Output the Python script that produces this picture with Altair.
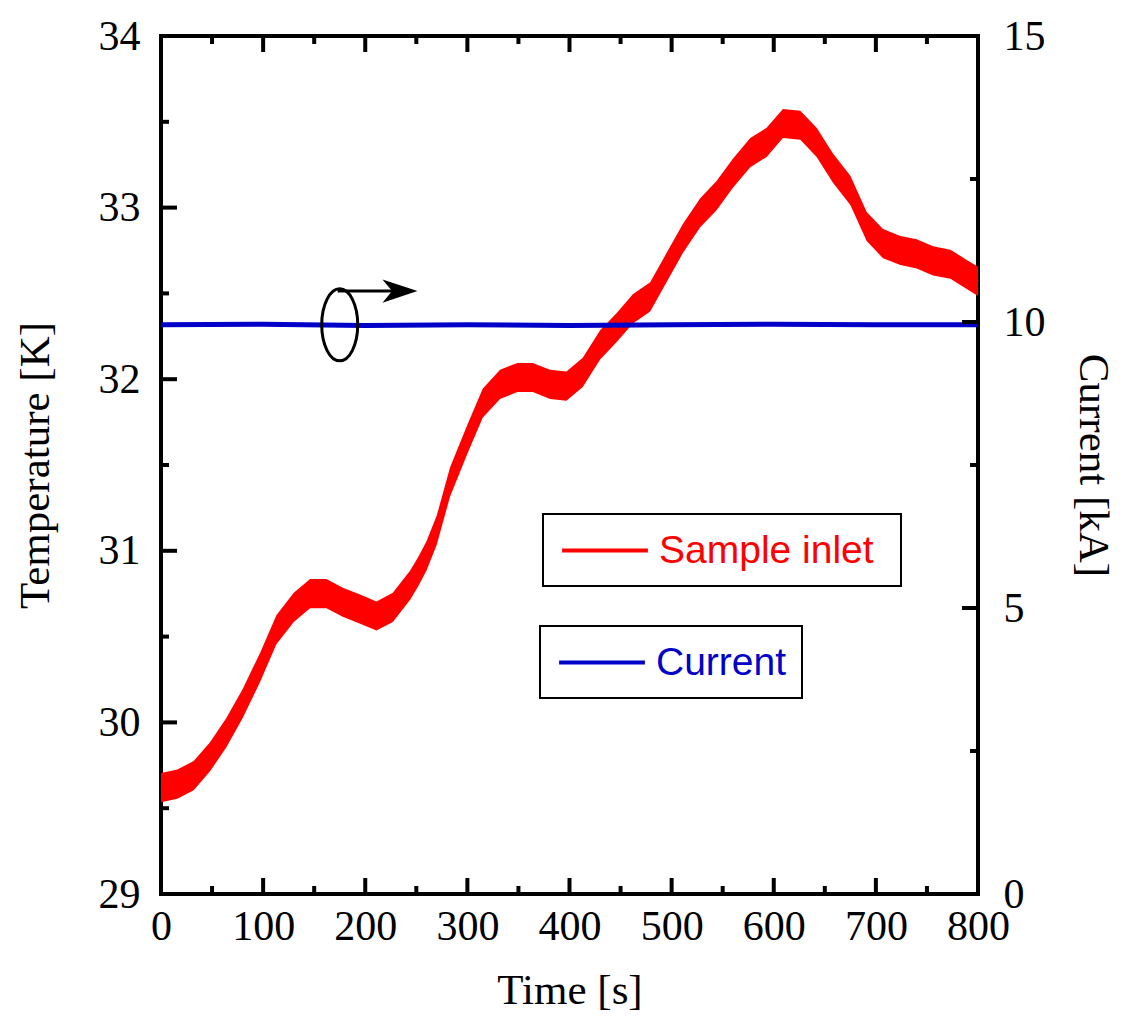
import altair as alt
import pandas as pd

# ---- data ----
time_s = [0, 16, 32, 48, 64, 80, 97, 113, 130, 146, 162, 178, 195, 211, 227, 244,
          252, 260, 270, 283, 300, 315, 332, 349, 364, 381, 397, 413, 430, 446, 462,
          479, 495, 511, 528, 544, 560, 577, 593, 609, 626, 642, 658, 675, 691, 707,
          724, 740, 756, 773, 789, 800]
temp_K = [29.62, 29.64, 29.69, 29.80, 29.94, 30.11, 30.32, 30.54, 30.67, 30.75, 30.75,
          30.70, 30.66, 30.62, 30.67, 30.80, 30.88, 30.97, 31.12, 31.40, 31.65, 31.86,
          31.97, 32.01, 32.01, 31.97, 31.96, 32.04, 32.20, 32.30, 32.41, 32.48, 32.65,
          32.82, 32.97, 33.07, 33.20, 33.32, 33.38, 33.49, 33.48, 33.38, 33.23, 33.10,
          32.89, 32.79, 32.75, 32.73, 32.69, 32.67, 32.61, 32.57]
cur_time_s = [0, 100, 200, 300, 400, 500, 600, 700, 800]
current_kA = [9.95, 9.96, 9.94, 9.95, 9.94, 9.95, 9.96, 9.95, 9.95]

x_major = [0, 100, 200, 300, 400, 500, 600, 700, 800]
x_minor = [50, 150, 250, 350, 450, 550, 650, 750]
t_major = [29, 30, 31, 32, 33, 34]
t_minor = [29.5, 30.5, 31.5, 32.5, 33.5]
i_major = [0, 5, 10, 15]
i_minor = [2.5, 7.5, 12.5]

ellipse_t = [175]
ellipse_i = [9.95]
arrow_t = [173, 236]
arrow_i = [10.54]
head_t = [234]

# ---- styles ----
W, H = 817, 858
RED = "#ff0000"
BLUE = "#0000c8"
SERIF = "Liberation Serif"
SANS = "Liberation Sans"
BAND = 0.085
MAJ, MIN = 16, 8
LAB, TIT = 42, 43

temp_df = pd.DataFrame({"t": time_s, "T": temp_K, "series": ["Sample inlet"] * len(time_s)})
cur_df = pd.DataFrame({"t": cur_time_s, "I": current_kA, "series": ["Current"] * len(cur_time_s)})

x_scale = alt.Scale(domain=[0, 800], nice=False, zero=False)
t_scale = alt.Scale(domain=[29, 34], nice=False, zero=False)
i_scale = alt.Scale(domain=[0, 15], nice=False, zero=False)

x_axis = alt.Axis(values=x_major, format="d", title="Time [s]", labelFont=SERIF,
                  labelFontSize=LAB, labelColor="black", labelPadding=12, labelFlush=False,
                  labelOverlap=False, titleFont=SERIF, titleFontSize=TIT,
                  titleFontWeight="normal", titleColor="black", titlePadding=22,
                  ticks=False, domain=False, grid=False)
t_axis = alt.Axis(values=t_major, format="d", title="Temperature [K]", labelFont=SERIF,
                  labelFontSize=LAB, labelColor="black", labelPadding=21, labelOverlap=False,
                  titleFont=SERIF, titleFontSize=TIT, titleFontWeight="normal",
                  titleColor="black", titlePadding=41, ticks=False, domain=False, grid=False)
i_axis = alt.Axis(values=i_major, format="d", title="Current [kA]", orient="right",
                  labelFont=SERIF, labelFontSize=LAB, labelColor="black", labelPadding=25,
                  labelOverlap=False, titleFont=SERIF, titleFontSize=TIT,
                  titleFontWeight="normal", titleColor="black", titlePadding=25,
                  ticks=False, domain=False, grid=False)

X = lambda f: alt.X(f, scale=x_scale, axis=x_axis)
YT = lambda f: alt.Y(f, scale=t_scale, axis=t_axis)
YI = lambda f: alt.Y(f, scale=i_scale, axis=i_axis)


def legend(x, y, color, extra):
    kw = dict(orient="none", legendX=x, legendY=y,
              strokeColor="black", padding=15, symbolOffset=25.5,
              symbolType="M-2.2,0 L2.2,0", symbolSize=1521, symbolStrokeWidth=4,
              symbolStrokeColor=color,
              labelFont=SANS, labelFontSize=39, labelColor=color,
              labelOffset=32.5, labelLimit=600)
    if extra > 0:
        # invisible spacer title on the right widens the framed box
        kw.update(title=" ", titleOrient="right", titleFontSize=1, titlePadding=extra)
    else:
        kw.update(title=None)
    return alt.Legend(**kw)


band = alt.Chart(temp_df).mark_area(color=RED, opacity=1).transform_calculate(
    lo=f"datum.T - {BAND}", hi=f"datum.T + {BAND}"
).encode(x=X("t:Q"), y=YT("lo:Q"), y2="hi:Q")

temp_line = alt.Chart(temp_df).mark_line(strokeWidth=3).encode(
    x=X("t:Q"), y=YT("T:Q"),
    color=alt.Color("series:N", scale=alt.Scale(domain=["Sample inlet"], range=[RED]),
                    legend=legend(382, 478, RED, 12)),
)

xt_major = pd.DataFrame({"v": x_major})
xt_minor = pd.DataFrame({"v": x_minor})
tt_major = pd.DataFrame({"v": t_major})
tt_minor = pd.DataFrame({"v": t_minor})
it_major = pd.DataFrame({"v": i_major})
it_minor = pd.DataFrame({"v": i_minor})


def xticks(df, L):
    bot = alt.Chart(df).mark_rule(color="black", strokeWidth=4).encode(
        x=X("v:Q"), y=alt.value(H), y2=alt.value(H - L))
    top = alt.Chart(df).mark_rule(color="black", strokeWidth=4).encode(
        x=X("v:Q"), y=alt.value(0), y2=alt.value(L))
    return [bot, top]


def tticks(df, L):
    return alt.Chart(df).mark_rule(color="black", strokeWidth=4).encode(
        y=YT("v:Q"), x=alt.value(0), x2=alt.value(L))


def iticks(df, L):
    return alt.Chart(df).mark_rule(color="black", strokeWidth=4).encode(
        y=YI("v:Q"), x=alt.value(W), x2=alt.value(W - L))


temp_group = alt.layer(
    band, temp_line, *xticks(xt_major, MAJ), *xticks(xt_minor, MIN),
    tticks(tt_major, MAJ), tticks(tt_minor, MIN)
)

cur_line = alt.Chart(cur_df).mark_line(strokeWidth=5).encode(
    x=X("t:Q"), y=YI("I:Q"),
    color=alt.Color("series:N", scale=alt.Scale(domain=["Current"], range=[BLUE]),
                    legend=legend(379, 590, BLUE, 0)),
)

ell_df = pd.DataFrame({"t": ellipse_t, "I": ellipse_i})
arr_df = pd.DataFrame({"t0": [arrow_t[0]], "t1": [arrow_t[1]], "I": arrow_i})
head_df = pd.DataFrame({"t": head_t, "I": arrow_i})

ellipse = alt.Chart(ell_df).mark_point(
    shape="M0,-1 A0.5,1 0 1,1 0,1 A0.5,1 0 1,1 0,-1 Z", size=5184, filled=False,
    stroke="black", strokeWidth=3, opacity=1
).encode(x=X("t:Q"), y=YI("I:Q"))
arrow = alt.Chart(arr_df).mark_rule(color="black", strokeWidth=3).encode(
    x=X("t0:Q"), x2="t1:Q", y=YI("I:Q"))
head = alt.Chart(head_df).mark_point(
    shape="M1,0 L-1,-0.66 L-0.45,0 L-1,0.66 Z", size=1225, filled=True,
    color="black", opacity=1
).encode(x=X("t:Q"), y=YI("I:Q"))

cur_group = alt.layer(cur_line, ellipse, arrow, head, iticks(it_major, MAJ), iticks(it_minor, MIN))

chart = alt.layer(temp_group, cur_group).resolve_scale(
    y="independent", color="independent"
).resolve_legend(color="independent").properties(
    width=W, height=H,
    autosize=alt.AutoSizeParams(type="none"),
    padding={"left": 153, "top": 28, "right": 140, "bottom": 120},
    background="white",
).configure_view(stroke="black", strokeWidth=4).configure_legend(strokeWidth=2)

chart.save("out.html", embed_options={"renderer": "svg", "actions": False})
